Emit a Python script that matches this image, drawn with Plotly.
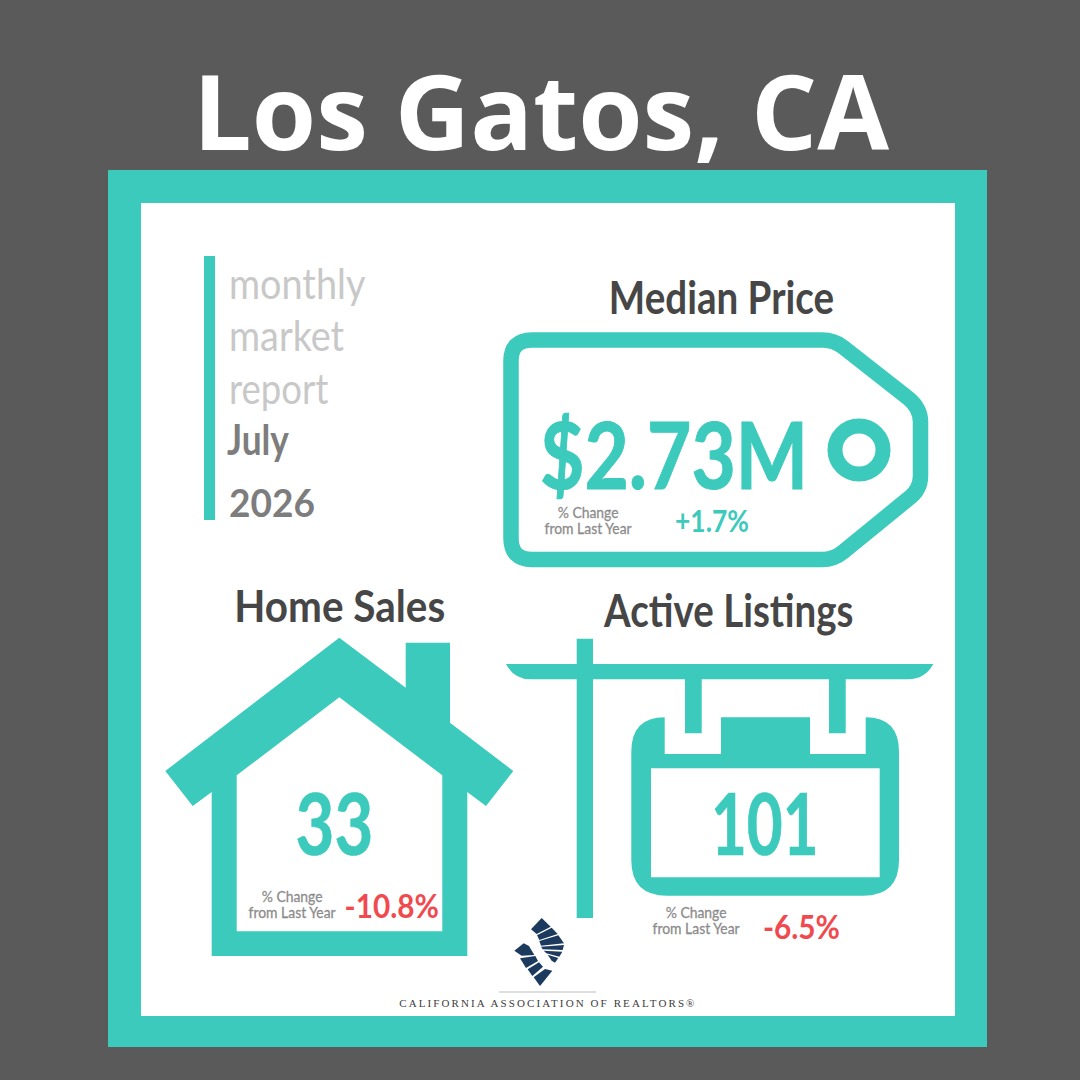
import json
import plotly.graph_objects as go

TITLE = "Los Gatos, CA"
REPORT_LINES = ["monthly", "market", "report"]
MONTH = "July"
YEAR = "2026"
METRICS = ["Median Price", "Home Sales", "Active Listings"]
VALUES = ["$2.73M", "33", "101"]
CHANGES = ["+1.7%", "-10.8%", "-6.5%"]
CHANGE_LABEL = "% Change<br>from Last Year"
ORG = "CALIFORNIA ASSOCIATION OF REALTORS®"

TEAL = "#3BCABB"
BG = "#5A5A5A"
RED = "#F04A4F"
DARK = "#464646"
NAVY = "#1B3A5E"
GREY = "#8C8C8C"
FONT = "Lato"

shapes = []

def rect(x0, y0, x1, y1, color):
    shapes.append(dict(type="rect", x0=x0, y0=y0, x1=x1, y1=y1, fillcolor=color, line_width=0, layer="below"))

def path(d, color, stroke=None, width=0):
    s = dict(type="path", path=d, layer="below")
    if stroke:
        s["line"] = dict(color=stroke, width=width)
        s["fillcolor"] = color
    else:
        s["fillcolor"] = color
        s["line_width"] = 0
    shapes.append(s)

def poly(pts, color):
    path("M " + " L ".join(f"{x} {y}" for x, y in pts) + " Z", color)

# frame
rect(108, 170, 987, 1047, TEAL)
rect(141, 203, 955, 1016, "#FFFFFF")
rect(204, 256, 215, 520, TEAL)

# price tag
path("M 532 340 L 822 340 Q 834 340 843 347 L 908 398 Q 920.5 408 920.5 422 L 920.5 476 "
     "Q 920.5 490 908 499 L 843 552 Q 834 559.5 822 559.5 L 532 559.5 Q 511 559.5 511 538 "
     "L 511 361 Q 511 340 532 340 Z", "#FFFFFF", TEAL, 15.5)
shapes.append(dict(type="circle", x0=835, y0=426, x1=883, y1=474, fillcolor="#FFFFFF",
                   line=dict(color=TEAL, width=15), layer="below"))

# house
poly([(339.3, 637.7), (405.7, 687.7), (405.7, 642.7), (450, 642.7), (450, 722.7), (513.3, 771),
      (486, 806), (467.3, 792), (467.3, 956), (211.7, 956), (211.7, 792), (192.7, 806), (165.3, 771)], TEAL)
poly([(339.3, 697.3), (442.3, 775.3), (442.3, 931.3), (236.7, 931.3), (236.7, 775.3)], "#FFFFFF")

# listing sign
rect(576.7, 638.7, 593, 918, TEAL)
path("M 506 664 L 933.3 664 Q 925 679.3 908 679.3 L 531 679.3 Q 514 679.3 506 664 Z", TEAL)
rect(685, 679, 701.7, 733.3, TEAL)
rect(829, 679, 845.7, 733.3, TEAL)
path("M 664.7 717.3 Q 631.3 717.3 631.3 752 L 631.3 860 Q 631.3 895.7 667 895.7 L 863 895.7 "
     "Q 899 895.7 899 860 L 899 752 Q 899 717.3 865.7 717.3 L 865.7 754 L 810 754 L 810 717.3 "
     "L 721 717.3 L 721 754 L 664.7 754 Z", TEAL)
rect(651, 768.3, 879.7, 877.3, "#FFFFFF")

# logo
ox, oy = 505, 910
blades = [
    [(78, 58), (110, 24), (137, 50), (95, 72)],
    [(96, 76), (140, 53), (158, 72), (103, 90)],
    [(103, 93), (160, 76), (177, 100), (108, 107)],
    [(108, 110), (177, 105), (173, 120), (113, 118)],
    [(116, 122), (172, 125), (163, 140), (124, 130)],
    [(128, 134), (160, 144), (150, 158), (140, 152)],
    [(28, 122), (56, 100), (72, 108), (88, 135), (50, 137)],
    [(45, 145), (91, 138), (99, 153), (63, 174)],
    [(68, 178), (102, 157), (114, 170), (82, 198)],
    [(86, 202), (120, 177), (142, 182), (105, 228)],
]
for b in blades:
    poly([(ox + x / 3, oy + y / 3) for x, y in b], NAVY)
rect(499, 991.5, 596, 992.5, "#BDBDBD")

ann = []
fits = []

def text(t, x, y, size, color, weight=None, family=FONT, anchor="center", sx=1.0, spacing=0, stroke=0, lh=0):
    f = dict(family=family, size=size, color=color)
    if weight:
        f["weight"] = weight
    ann.append(dict(text=t, x=x, y=y, xref="x", yref="y", showarrow=False, xanchor=anchor,
                    yanchor="middle", font=f, align="center"))
    fits.append(dict(sx=sx, spacing=spacing, stroke=stroke, color=color, lh=lh,
                     origin="0% 50%" if anchor == "left" else "50% 50%"))

text(TITLE, 540.5, 109, 104, "#FFFFFF", 700, "Open Sans")

for t, y, sx in zip(REPORT_LINES, [283, 335, 388], [0.90, 0.90, 0.87]):
    text(t, 227, y, 42, "#C8C8C8", anchor="left", sx=sx)
text(MONTH, 225, 439, 42, "#7D7D7D", 700, anchor="left", sx=0.84)
text(YEAR, 227, 502, 39, "#7D7D7D", 700, anchor="left", sx=0.95)

text(METRICS[0], 721, 296.5, 45, DARK, 700, sx=0.857)
text(METRICS[1], 339, 605, 44, DARK, 700, sx=0.92)
text(METRICS[2], 728.5, 610, 45, DARK, 700, sx=0.855)

text(VALUES[0], 674, 453, 92, TEAL, 700, sx=0.832, stroke=1.0)
text(VALUES[1], 334, 821, 87, TEAL, 700, sx=0.77, stroke=0.7)
text(VALUES[2], 765, 821, 86, TEAL, 700, sx=0.72, stroke=0.7)

for cx, yc in [(587.5, 522), (291.5, 906), (695.5, 922)]:
    text(CHANGE_LABEL, cx, yc, 16, GREY, sx=0.87, stroke=0.3, lh=1.0)

text(CHANGES[0], 711.5, 520, 30, TEAL, 700, sx=0.88)
text(CHANGES[1], 391, 905, 32, RED, 700, sx=0.93)
text(CHANGES[2], 801, 926, 32, RED, 700, sx=0.93)

text(ORG, 547.5, 1002.5, 11, "#404040", None, "Liberation Serif", spacing=2.1)

fig = go.Figure()
fig.update_layout(
    width=1080, height=1080, autosize=False,
    margin=dict(l=0, r=0, t=0, b=0), paper_bgcolor=BG, plot_bgcolor=BG,
    xaxis=dict(range=[0, 1080], visible=False, fixedrange=True),
    yaxis=dict(range=[1080, 0], visible=False, fixedrange=True),
    shapes=shapes, annotations=ann, showlegend=False,
)
script = """
document.body.style.margin='0';
document.body.style.background='#5A5A5A';
var fits = %s;
document.querySelectorAll('.annotation').forEach(function(g){
  var fit = fits[+g.getAttribute('data-index')];
  var t = g.querySelector('text');
  if(!fit || !t) return;
  t.style.transformBox = 'fill-box';
  t.style.transformOrigin = fit.origin;
  t.style.transform = 'scaleX(' + fit.sx + ')';
  if(fit.spacing) t.style.letterSpacing = fit.spacing + 'px';
  if(fit.stroke){ t.style.stroke = fit.color; t.style.strokeWidth = fit.stroke + 'px'; }
  if(fit.lh){ t.querySelectorAll('tspan.line').forEach(function(s, i){ s.setAttribute('dy', (i * fit.lh) + 'em'); }); }
});
""" % json.dumps(fits)
fig.write_html("out.html", config={"displayModeBar": False}, post_script=script)
